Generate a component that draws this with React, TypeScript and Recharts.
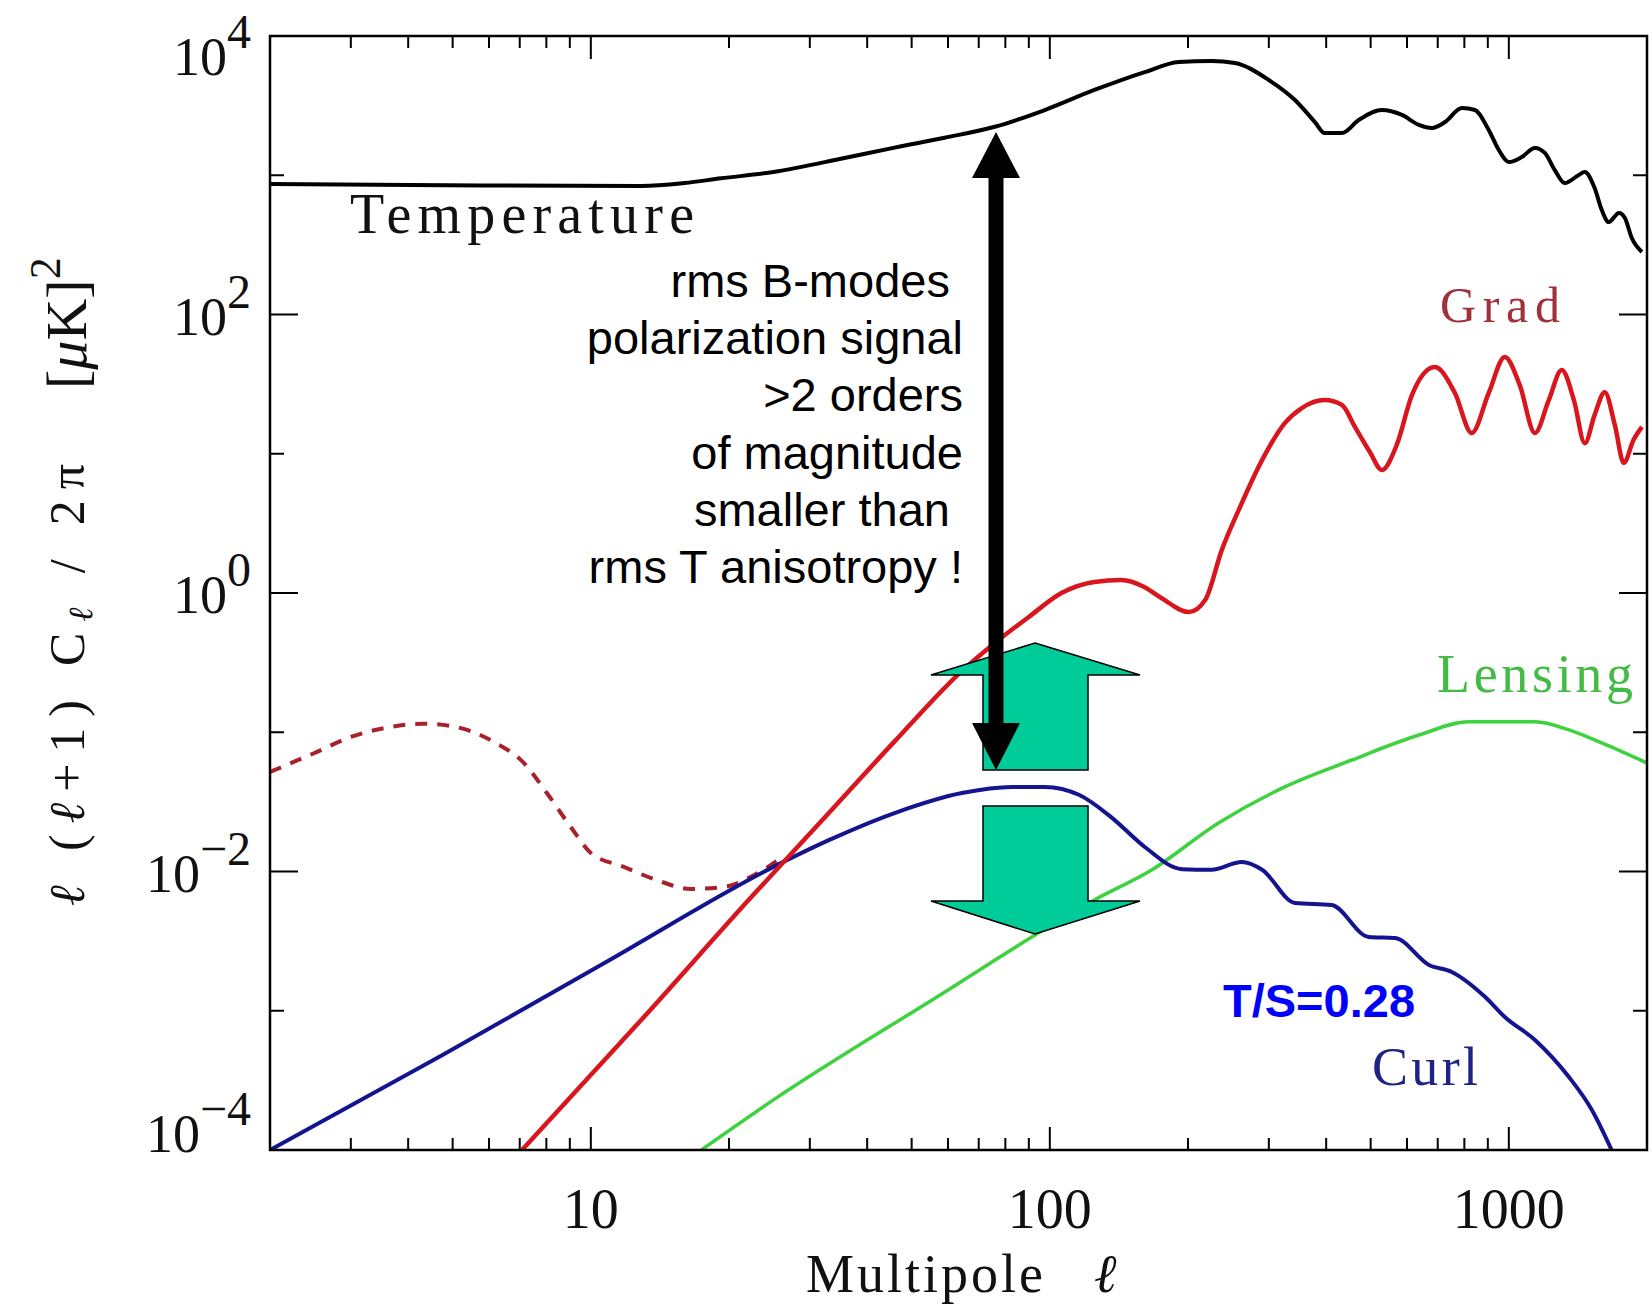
import React from "react";
import { LineChart, Line, XAxis, YAxis } from "recharts";

// plot frame in page pixels
const W = 1652;
const H = 1304;
const PL = 270;
const PR = 1647;
const PT = 36;
const PB = 1150;

// multipole l / power l(l+1)C_l/2pi
const tempEll = [2, 4.06, 12.9, 16, 19.2, 25, 35.7, 45.9, 59, 75.9, 97.5, 125, 161, 191, 225, 253, 300, 342, 378, 397, 433, 471, 529, 585, 637, 680, 726, 790, 844, 904, 951, 1000, 1067, 1140, 1198, 1259, 1324, 1420, 1463, 1538, 1594, 1651, 1738, 1790, 1853, 1950];
const tempPow = [865, 851, 838, 880, 950, 1055, 1330, 1580, 1860, 2230, 2940, 4095, 5510, 6500, 6610, 6400, 4830, 3470, 2410, 2010, 2010, 2495, 2940, 2710, 2300, 2185, 2410, 3040, 2940, 2115, 1517, 1245, 1352, 1570, 1446, 1090, 879, 1005, 1055, 809, 562, 461, 535, 493, 354, 281];

const gradEll = [7.08, 12.8, 22.6, 33, 45.9, 64.3, 75.9, 90, 106, 125, 143, 161, 175, 201, 218, 237, 258, 290, 325, 354, 397, 433, 462, 498, 529, 570, 615, 690, 763, 830, 904, 980, 1056, 1140, 1222, 1304, 1386, 1464, 1538, 1618, 1702, 1780, 1870, 1950];
const gradPow = [1e-4, 8.4e-4, 6.8e-3, 0.0263, 0.086, 0.275, 0.438, 0.673, 1.0, 1.2, 1.24, 1.1, 0.92, 0.73, 0.89, 2.04, 3.95, 9.0, 16.6, 21.3, 24.3, 22.4, 15.6, 10.3, 7.64, 11.6, 26.4, 42, 27.3, 14.1, 27.3, 49.5, 31.2, 14.1, 24.3, 39.9, 24.3, 11.9, 19.0, 27.7, 16.1, 8.6, 12.6, 15.6];

const gradLowEll = [2, 2.5, 3, 3.54, 4.33, 5.21, 6.15, 7.15, 8.02, 9.04, 10, 11.8, 13.9, 16.5, 19.5, 22.6, 26];
const gradLowPow = [0.0518, 0.071, 0.0925, 0.107, 0.115, 0.107, 0.0851, 0.0601, 0.0366, 0.0209, 0.0136, 0.0108, 0.00869, 0.00749, 0.00774, 0.00935, 0.0125];

const curlEll = [2, 4.71, 10.8, 25, 33, 45.9, 64.3, 82.6, 97.5, 116, 136, 161, 194, 225, 262, 290, 342, 411, 495, 565, 670, 751, 887, 980, 1140, 1352, 1517, 1675];
const curlPow = [1e-4, 4.73e-4, 2.24e-3, 0.0108, 0.0168, 0.0263, 0.0366, 0.0405, 0.0405, 0.0354, 0.0246, 0.015, 0.0104, 0.0103, 0.0117, 0.0103, 5.94e-3, 5.74e-3, 3.39e-3, 3.33e-3, 2.13e-3, 1.9e-3, 1.26e-3, 9.02e-4, 6.17e-4, 3.34e-4, 1.94e-4, 1e-4];

const lensEll = [17.4, 25, 55.3, 125, 167, 233, 325, 455, 637, 818, 1140, 1352, 1594, 2000];
const lensPow = [1e-4, 2.29e-4, 1.19e-3, 6.24e-3, 0.0103, 0.0223, 0.0405, 0.0632, 0.0955, 0.119, 0.119, 0.104, 0.0838, 0.0601];

const xTicks = [3, 4, 5, 6, 7, 8, 9, 10, 20, 30, 40, 50, 60, 70, 80, 90, 100, 200, 300, 400, 500, 600, 700, 800, 900, 1000];
const xTickLabels: Record<number, string> = { 10: "10", 100: "100", 1000: "1000" };
const yTicks = [1e-4, 1e-3, 1e-2, 1e-1, 1, 10, 100, 1000, 1e4];
const yTickExps = ["−4", "", "−2", "", "0", "", "2", "", "4"];

const noteLines = ["rms B-modes ", "polarization signal", ">2 orders", "of magnitude", "smaller than ", "rms T anisotropy !"];

const zip = (ls: number[], vs: number[]) => ls.map((l, i) => ({ l, v: vs[i] }));

const SERIF = "'Liberation Serif', 'DejaVu Serif', serif";
const SANS = "'Liberation Sans', Arial, sans-serif";

function YTick(props: any) {
  const { y, index } = props;
  const exp = yTickExps[index];
  const len = exp ? 28 : 14;
  const edge = index === 0 || index === yTicks.length - 1;
  const dy = index === 0 ? 2 : index === yTicks.length - 1 ? 39 : 20;
  return (
    <g>
      {!edge && <line x1={PL} x2={PL + len} y1={y} y2={y} stroke="#000" strokeWidth={2} />}
      {!edge && <line x1={PR} x2={PR - len} y1={y} y2={y} stroke="#000" strokeWidth={2} />}
      {exp && (
        <text x={251} y={y + dy} textAnchor="end" fontFamily={SERIF} fontSize={54} fill="#111">
          10<tspan dy={-27} fontSize={48}>{exp}</tspan>
        </text>
      )}
    </g>
  );
}

function XTick(props: any) {
  const { x, payload } = props;
  const label = xTickLabels[payload.value];
  const len = label ? 23 : 12;
  return (
    <g>
      <line x1={x} x2={x} y1={PB} y2={PB - len} stroke="#000" strokeWidth={2} />
      <line x1={x} x2={x} y1={PT} y2={PT + len} stroke="#000" strokeWidth={2} />
      {label && (
        <text x={x} y={1228} textAnchor="middle" fontFamily={SERIF} fontSize={56} fill="#111">
          {label}
        </text>
      )}
    </g>
  );
}

function Overlay() {
  return (
    <svg width={W} height={H} style={{ position: "absolute", left: 0, top: 0, pointerEvents: "none" }}>
      <rect x={PL} y={PT} width={PR - PL} height={PB - PT} fill="none" stroke="#000" strokeWidth={2.5} />

      {/* axis titles */}
      <g transform="translate(84,685) rotate(-90)">
        <text x={0} y={0} textAnchor="middle" fontFamily={SERIF} fontSize={50} fill="#111" textLength={442} lengthAdjust="spacing">
          <tspan fontStyle="italic">ℓ</tspan> (<tspan fontStyle="italic">ℓ</tspan>+1) C<tspan dy={8} fontSize={34} fontStyle="italic">ℓ</tspan><tspan dy={-8}> / 2π</tspan>
        </text>
      </g>
      <g transform="translate(86,389) rotate(-90)">
        <text x={0} y={0} fontFamily={SERIF} fontSize={58} fill="#111">
          [<tspan fontStyle="italic">μ</tspan>K]<tspan dy={-26} fontSize={44}>2</tspan>
        </text>
      </g>
      <text x={806} y={1292} fontFamily={SERIF} fontSize={54} fill="#111" textLength={237} lengthAdjust="spacing">Multipole</text>
      <text x={1094} y={1292} fontFamily={SERIF} fontSize={54} fontStyle="italic" fill="#111">ℓ</text>

      {/* curve names */}
      <text x={350} y={233} fontFamily={SERIF} fontSize={56} fill="#111" textLength={344} lengthAdjust="spacing">Temperature</text>
      <text x={1440} y={322} fontFamily={SERIF} fontSize={50} fill="#a0303c" textLength={120} lengthAdjust="spacing">Grad</text>
      <text x={1437} y={692} fontFamily={SERIF} fontSize={54} fill="#44bb44" textLength={196} lengthAdjust="spacing">Lensing</text>
      <text x={1372} y={1085} fontFamily={SERIF} fontSize={54} fill="#1f2383" textLength={106} lengthAdjust="spacing">Curl</text>
      <text x={1223} y={1017} fontFamily={SANS} fontSize={47} fontWeight="bold" fill="#0000ff">T/S=0.28</text>

      {/* green block arrows */}
      <polygon points="1035,643 1140,675 1088,675 1088,770 983,770 983,675 931,675" fill="#00cc99" stroke="#000" strokeWidth={1.5} />
      <polygon points="983,806 1088,806 1088,901 1140,901 1035,934 931,901 983,901" fill="#00cc99" stroke="#000" strokeWidth={1.5} />

      {/* black double arrow */}
      <polygon points="996,132 1020,178 1003.5,178 1003.5,723 1020,723 996,770 972,723 988.5,723 988.5,178 972,178" fill="#000" />

      <text x={963} fontFamily={SANS} fontSize={47} fill="#000" textAnchor="end" style={{ whiteSpace: "pre" }}>
        {noteLines.map((s, i) => (
          <tspan key={i} x={963} y={297 + i * 57.2}>{s}</tspan>
        ))}
      </text>
    </svg>
  );
}

export default function App() {
  return (
    <div style={{ position: "absolute", left: 0, top: 0, width: W, height: H, background: "#fff" }}>
      <LineChart width={W} height={H} margin={{ top: PT, right: W - PR, bottom: 0, left: 0 }}>
        <XAxis
          type="number"
          dataKey="l"
          scale="log"
          domain={[2, 2000]}
          allowDataOverflow
          ticks={xTicks}
          interval={0}
          tick={(p: any) => <XTick {...p} />}
          tickLine={false}
          axisLine={false}
          tickSize={0}
          tickMargin={0}
          height={H - PB}
        />
        <YAxis
          type="number"
          scale="log"
          domain={[1e-4, 1e4]}
          allowDataOverflow
          ticks={yTicks}
          interval={0}
          tick={(p: any) => <YTick {...p} />}
          tickLine={false}
          axisLine={false}
          tickSize={0}
          tickMargin={0}
          width={PL}
        />
        <Line data={zip(gradLowEll, gradLowPow)} dataKey="v" type="monotone" stroke="#a8222c" strokeWidth={4} strokeDasharray="12 10" dot={false} isAnimationActive={false} />
        <Line data={zip(lensEll, lensPow)} dataKey="v" type="monotone" stroke="#3fd23f" strokeWidth={3.5} dot={false} isAnimationActive={false} />
        <Line data={zip(curlEll, curlPow)} dataKey="v" type="monotone" stroke="#14148f" strokeWidth={4} dot={false} isAnimationActive={false} />
        <Line data={zip(gradEll, gradPow)} dataKey="v" type="monotone" stroke="#d9161e" strokeWidth={4.5} dot={false} isAnimationActive={false} />
        <Line data={zip(tempEll, tempPow)} dataKey="v" type="monotone" stroke="#000" strokeWidth={4} dot={false} isAnimationActive={false} />
      </LineChart>
      <Overlay />
    </div>
  );
}
